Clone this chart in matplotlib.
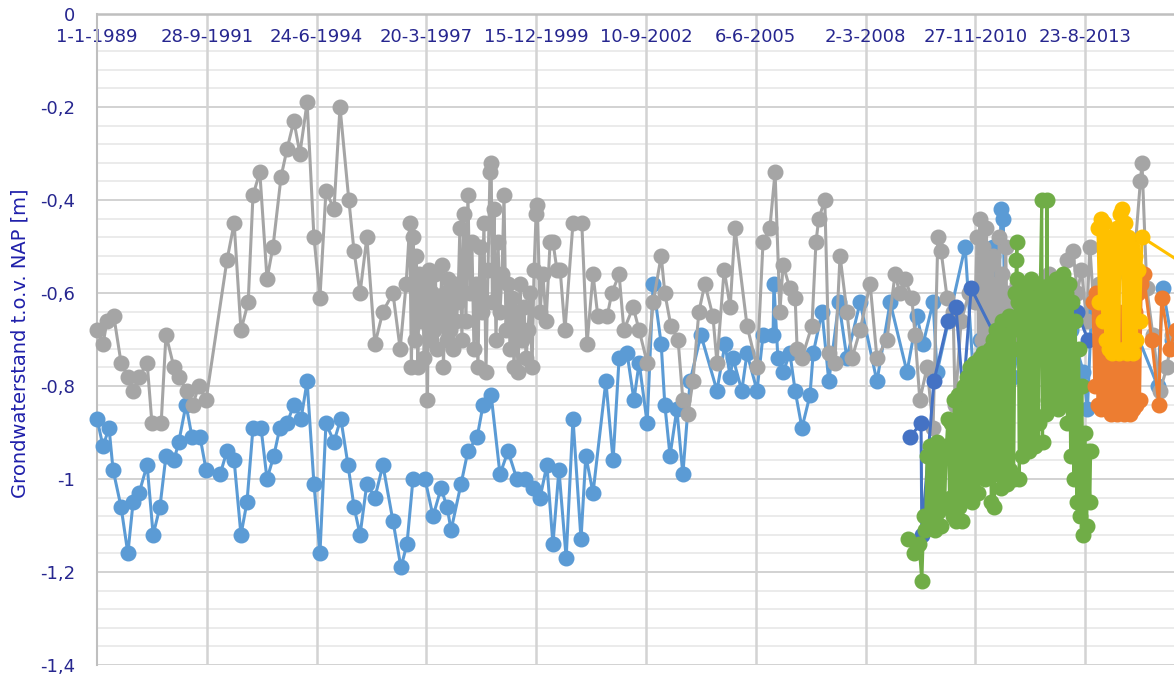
import matplotlib
matplotlib.use("Agg")
import matplotlib.pyplot as plt
import matplotlib.dates as mdates
from matplotlib.ticker import FixedLocator, FuncFormatter
from datetime import datetime
import numpy as np

# Peilbuis data: times as decimal years, levels in m t.o.v. NAP
gray_t = [1989.00, 1989.15, 1989.25, 1989.42, 1989.60, 1989.77, 1989.90, 1990.05, 1990.25, 1990.37,
          1990.60, 1990.72, 1990.92, 1991.04, 1991.24, 1991.39, 1991.54, 1991.72, 1992.24, 1992.42,
          1992.59, 1992.77, 1992.89, 1993.06, 1993.24, 1993.39, 1993.59, 1993.74, 1993.91, 1994.06,
          1994.24, 1994.41, 1994.56, 1994.71, 1994.91, 1995.06, 1995.28, 1995.41, 1995.56, 1995.73,
          1995.93, 1996.13, 1996.38, 1996.56, 1996.71,
          1996.80, 1996.84, 1996.88, 1996.92, 1996.96, 1997.00, 1997.04, 1997.08, 1997.12, 1997.16,
          1997.20, 1997.24, 1997.28, 1997.32, 1997.36, 1997.40, 1997.44, 1997.48, 1997.52, 1997.56,
          1997.60, 1997.64, 1997.68, 1997.72, 1997.76, 1997.80, 1997.84, 1997.88, 1997.92, 1997.96,
          1998.00, 1998.05, 1998.10, 1998.15, 1998.20, 1998.25, 1998.30, 1998.35, 1998.40, 1998.45,
          1998.50, 1998.55, 1998.60, 1998.65, 1998.70, 1998.75, 1998.80, 1998.83, 1998.86, 1998.90,
          1998.95, 1999.00, 1999.05, 1999.10, 1999.15, 1999.20, 1999.25, 1999.30, 1999.35, 1999.40,
          1999.45, 1999.50, 1999.55, 1999.60, 1999.65, 1999.70, 1999.75, 1999.80, 1999.85, 1999.90,
          1999.95, 1999.98, 2000.05, 2000.12, 2000.20, 2000.30, 2000.37, 2000.47, 2000.55, 2000.67,
          2000.87, 2001.09, 2001.22, 2001.37, 2001.49, 2001.72, 2001.84, 2002.02, 2002.14, 2002.37,
          2002.52, 2002.72, 2002.87, 2003.07, 2003.16, 2003.31, 2003.49, 2003.61, 2003.74, 2003.86,
          2004.01, 2004.16, 2004.36, 2004.46, 2004.64, 2004.79, 2004.91, 2005.21, 2005.46, 2005.61,
          2005.78, 2005.91, 2006.03, 2006.11, 2006.28, 2006.41, 2006.46, 2006.58, 2006.83, 2006.93,
          2007.00, 2007.15, 2007.25, 2007.40, 2007.53, 2007.70, 2007.83, 2008.03, 2008.28, 2008.45,
          2008.70, 2008.90, 2009.02, 2009.15, 2009.32, 2009.40, 2009.52, 2009.70, 2009.85, 2009.97,
          2010.05, 2010.20, 2010.35, 2010.40, 2010.55, 2010.75,
          2010.90, 2010.95, 2011.00, 2011.02, 2011.06, 2011.10, 2011.14, 2011.18, 2011.22, 2011.26,
          2011.30, 2011.34, 2011.38, 2011.42, 2011.46, 2011.50, 2011.54, 2011.58, 2011.62, 2011.66,
          2011.70, 2011.75, 2011.85, 2011.95, 2012.05, 2012.15, 2012.30, 2012.45, 2012.60, 2012.75,
          2012.90, 2013.05, 2013.20, 2013.34, 2013.45, 2013.55, 2013.68, 2013.76, 2013.85, 2014.00,
          2014.30, 2014.60, 2014.80, 2015.02, 2015.06, 2015.18, 2015.33, 2015.51, 2015.68, 2015.81]
gray_v = [-0.68, -0.71, -0.66, -0.65, -0.75, -0.78, -0.81, -0.78, -0.75, -0.88,
          -0.88, -0.69, -0.76, -0.78, -0.81, -0.84, -0.80, -0.83, -0.53, -0.45,
          -0.68, -0.62, -0.39, -0.34, -0.57, -0.50, -0.35, -0.29, -0.23, -0.30,
          -0.19, -0.48, -0.61, -0.38, -0.42, -0.20, -0.40, -0.51, -0.60, -0.48,
          -0.71, -0.64, -0.60, -0.72, -0.58,
          -0.45, -0.76, -0.48, -0.70, -0.52, -0.76, -0.56, -0.66, -0.60, -0.74,
          -0.58, -0.83, -0.55, -0.70, -0.60, -0.68, -0.56, -0.72, -0.62, -0.66,
          -0.54, -0.76, -0.60, -0.70, -0.57, -0.68, -0.62, -0.72, -0.58, -0.66,
          -0.62, -0.46, -0.70, -0.43, -0.66, -0.39, -0.60, -0.49, -0.72, -0.58,
          -0.76, -0.50, -0.64, -0.45, -0.77, -0.55, -0.34, -0.32, -0.62, -0.42,
          -0.70, -0.49, -0.64, -0.56, -0.39, -0.68, -0.58, -0.72, -0.61, -0.76,
          -0.64, -0.77, -0.58, -0.70, -0.63, -0.74, -0.68, -0.60, -0.76, -0.55,
          -0.43, -0.41, -0.64, -0.56, -0.66, -0.49, -0.49, -0.55, -0.55, -0.68,
          -0.45, -0.45, -0.71, -0.56, -0.65, -0.65, -0.60, -0.56, -0.68, -0.63,
          -0.68, -0.75, -0.62, -0.52, -0.60, -0.67, -0.70, -0.83, -0.86, -0.79,
          -0.64, -0.58, -0.65, -0.75, -0.55, -0.63, -0.46, -0.67, -0.76, -0.49,
          -0.46, -0.34, -0.64, -0.54, -0.59, -0.61, -0.72, -0.74, -0.67, -0.49,
          -0.44, -0.40, -0.73, -0.75, -0.52, -0.64, -0.74, -0.68, -0.58, -0.74,
          -0.70, -0.56, -0.60, -0.57, -0.61, -0.69, -0.83, -0.76, -0.89, -0.48,
          -0.51, -0.61, -0.64, -0.84, -0.66, -0.60,
          -0.62, -0.48, -0.74, -0.44, -0.70, -0.50, -0.75, -0.46, -0.72, -0.54,
          -0.76, -0.52, -0.70, -0.58, -0.74, -0.48, -0.72, -0.56, -0.77, -0.50,
          -0.68, -0.60, -0.66, -0.58, -0.70, -0.62, -0.66, -0.60, -0.68, -0.56,
          -0.64, -0.58, -0.53, -0.51, -0.60, -0.55, -0.66, -0.50, -0.62, -0.58,
          -0.62, -0.55, -0.60, -0.36, -0.32, -0.59, -0.69, -0.81, -0.76, -0.69]

lblue_t = [1989.00, 1989.15, 1989.30, 1989.40, 1989.60, 1989.77, 1989.90, 1990.05, 1990.25, 1990.40,
           1990.57, 1990.72, 1990.92, 1991.04, 1991.22, 1991.37, 1991.57, 1991.72, 1992.07, 1992.24,
           1992.42, 1992.59, 1992.74, 1992.89, 1993.09, 1993.24, 1993.41, 1993.56, 1993.74, 1993.91,
           1994.09, 1994.24, 1994.41, 1994.56, 1994.71, 1994.91, 1995.08, 1995.26, 1995.41, 1995.56,
           1995.73, 1995.93, 1996.13, 1996.38, 1996.58, 1996.73, 1996.88, 1997.18, 1997.38, 1997.58,
           1997.73, 1997.83, 1998.08, 1998.25, 1998.48, 1998.63, 1998.83, 1999.05, 1999.25, 1999.47,
           1999.67, 1999.87, 2000.05, 2000.22, 2000.37, 2000.52, 2000.70, 2000.87, 2001.07, 2001.19,
           2001.37, 2001.69, 2001.87, 2002.02, 2002.22, 2002.39, 2002.52, 2002.72, 2002.87, 2003.07,
           2003.16, 2003.29, 2003.46, 2003.61, 2003.79, 2004.06, 2004.46, 2004.66, 2004.79, 2004.86,
           2005.08, 2005.21, 2005.46, 2005.61, 2005.86, 2005.88, 2005.98, 2006.11, 2006.28, 2006.41,
           2006.58, 2006.78, 2006.86, 2007.08, 2007.25, 2007.50, 2007.70, 2008.03, 2008.45, 2008.78,
           2009.20, 2009.45, 2009.60, 2009.85, 2009.95, 2010.65, 2010.85, 2011.02, 2011.10, 2011.15,
           2011.20, 2011.25, 2011.35, 2011.45, 2011.55, 2011.60, 2011.65, 2011.75, 2011.85, 2012.10,
           2012.40, 2012.70, 2013.00, 2013.30, 2013.60, 2013.70, 2013.80, 2014.20, 2014.80, 2015.45,
           2015.58, 2015.80]
lblue_v = [-0.87, -0.93, -0.89, -0.98, -1.06, -1.16, -1.05, -1.03, -0.97, -1.12,
           -1.06, -0.95, -0.96, -0.92, -0.84, -0.91, -0.91, -0.98, -0.99, -0.94,
           -0.96, -1.12, -1.05, -0.89, -0.89, -1.00, -0.95, -0.89, -0.88, -0.84,
           -0.87, -0.79, -1.01, -1.16, -0.88, -0.92, -0.87, -0.97, -1.06, -1.12,
           -1.01, -1.04, -0.97, -1.09, -1.19, -1.14, -1.00, -1.00, -1.08, -1.02,
           -1.06, -1.11, -1.01, -0.94, -0.91, -0.84, -0.82, -0.99, -0.94, -1.00,
           -1.00, -1.02, -1.04, -0.97, -1.14, -0.98, -1.17, -0.87, -1.13, -0.95,
           -1.03, -0.79, -0.96, -0.74, -0.73, -0.83, -0.75, -0.88, -0.58, -0.71,
           -0.84, -0.95, -0.85, -0.99, -0.79, -0.69, -0.81, -0.71, -0.78, -0.74,
           -0.81, -0.73, -0.81, -0.69, -0.69, -0.58, -0.74, -0.77, -0.73, -0.81,
           -0.89, -0.82, -0.73, -0.64, -0.79, -0.62, -0.74, -0.62, -0.79, -0.62,
           -0.77, -0.65, -0.71, -0.62, -0.77, -0.50, -0.77, -0.70, -0.60, -0.80,
           -0.55, -0.76, -0.50, -0.72, -0.42, -0.44, -0.70, -0.62, -0.78, -0.66,
           -0.72, -0.64, -0.70, -0.68, -0.77, -0.85, -0.64, -0.65, -0.66, -0.80,
           -0.59, -0.70]

dblue_t = [2009.27, 2009.55, 2009.57, 2009.87, 2010.22, 2010.42, 2010.60, 2010.80, 2011.44, 2013.44, 2013.71]
dblue_v = [-0.91, -0.88, -1.12, -0.79, -0.66, -0.63, -0.82, -0.59, -0.70, -0.64, -0.70]

green_t = [2009.23, 2009.38, 2009.50, 2009.57, 2009.62, 2009.66, 2009.70, 2009.74, 2009.78, 2009.82,
           2009.86, 2009.90, 2009.94, 2009.98, 2010.02, 2010.06, 2010.10, 2010.14, 2010.18, 2010.22,
           2010.26, 2010.30, 2010.34, 2010.38, 2010.42, 2010.46, 2010.50, 2010.54, 2010.58, 2010.62,
           2010.66, 2010.70, 2010.74, 2010.78, 2010.82, 2010.86, 2010.90, 2010.94, 2010.98, 2011.02,
           2011.06, 2011.10, 2011.14, 2011.18, 2011.22, 2011.26, 2011.30, 2011.34, 2011.38, 2011.42,
           2011.46, 2011.50, 2011.54, 2011.58, 2011.62, 2011.66, 2011.70, 2011.74, 2011.78, 2011.82,
           2011.86, 2011.90, 2011.93, 2011.94, 2011.95, 2011.96, 2011.97, 2011.98, 2012.00, 2012.04,
           2012.08, 2012.12, 2012.16, 2012.20, 2012.24, 2012.28, 2012.32, 2012.36, 2012.40, 2012.44,
           2012.48, 2012.52, 2012.56, 2012.58, 2012.62, 2012.66, 2012.69, 2012.72, 2012.76, 2012.80,
           2012.84, 2012.88, 2012.92, 2012.96, 2013.00, 2013.04, 2013.08, 2013.12, 2013.16, 2013.20,
           2013.24, 2013.28, 2013.32, 2013.36, 2013.40, 2013.44, 2013.48, 2013.52, 2013.56, 2013.60,
           2013.64, 2013.68, 2013.72, 2013.76, 2013.78]
green_v = [-1.13, -1.16, -1.14, -1.22, -1.08, -1.11, -0.95, -1.10, -0.93, -1.08,
           -0.96, -1.11, -0.92, -1.07, -0.95, -1.10, -0.94, -1.06, -0.93, -0.87,
           -1.04, -0.88, -1.08, -0.83, -1.09, -0.82, -1.06, -0.85, -1.09, -0.80,
           -1.04, -0.78, -1.02, -0.76, -1.05, -0.75, -1.00, -0.78, -1.03, -0.74,
           -0.98, -0.73, -1.00, -0.76, -0.97, -0.72, -1.05, -0.70, -1.06, -0.68,
           -0.99, -0.70, -1.02, -0.66, -0.96, -0.69, -1.01, -0.65, -0.98, -0.68,
           -1.00, -0.60, -0.53, -0.49, -0.57, -0.62, -0.66, -0.72, -1.00, -0.62,
           -0.95, -0.58, -0.92, -0.60, -0.94, -0.57, -0.90, -0.62, -0.93, -0.58,
           -0.88, -0.60, -0.40, -0.92, -0.59, -0.86, -0.40, -0.83, -0.58, -0.84,
           -0.60, -0.82, -0.57, -0.85, -0.59, -0.84, -0.56, -0.83, -0.60, -0.88,
           -0.58, -0.95, -0.62, -1.00, -0.66, -1.05, -0.72, -1.08, -0.80, -1.12,
           -0.90, -1.10, -0.94, -1.05, -0.94]

orange_t = [2013.84, 2013.88, 2013.92, 2013.96, 2014.00, 2014.04, 2014.08, 2014.12, 2014.16, 2014.20,
            2014.24, 2014.28, 2014.32, 2014.36, 2014.40, 2014.44, 2014.48, 2014.52, 2014.56, 2014.60,
            2014.64, 2014.68, 2014.72, 2014.76, 2014.80, 2014.84, 2014.88, 2014.92, 2014.96, 2015.00,
            2015.04, 2015.10, 2015.30, 2015.48, 2015.55, 2015.75, 2015.90]
orange_v = [-0.62, -0.80, -0.60, -0.84, -0.62, -0.85, -0.64, -0.83, -0.66, -0.85,
            -0.68, -0.86, -0.70, -0.84, -0.66, -0.86, -0.64, -0.85, -0.68, -0.86,
            -0.70, -0.85, -0.66, -0.86, -0.62, -0.85, -0.64, -0.84, -0.60, -0.83,
            -0.58, -0.56, -0.70, -0.84, -0.61, -0.72, -0.68]

yellow_t = [2013.96, 2014.00, 2014.04, 2014.08, 2014.12, 2014.16, 2014.20, 2014.24, 2014.28, 2014.32,
            2014.36, 2014.40, 2014.44, 2014.48, 2014.52, 2014.56, 2014.60, 2014.64, 2014.68, 2014.72,
            2014.76, 2014.80, 2014.84, 2014.88, 2014.92, 2014.96, 2015.00, 2015.06, 2016.50]
yellow_v = [-0.46, -0.62, -0.44, -0.66, -0.45, -0.70, -0.48, -0.72, -0.50, -0.73,
            -0.48, -0.72, -0.46, -0.73, -0.43, -0.42, -0.72, -0.45, -0.73, -0.48,
            -0.72, -0.50, -0.73, -0.52, -0.70, -0.55, -0.66, -0.48, -0.56]

series = [
    (lblue_t, lblue_v, '#5B9BD5'),
    (gray_t, gray_v, '#A5A5A5'),
    (dblue_t, dblue_v, '#4472C4'),
    (green_t, green_v, '#70AD47'),
    (orange_t, orange_v, '#ED7D31'),
    (yellow_t, yellow_v, '#FFC000'),
]

start = mdates.date2num(datetime(1989, 1, 1))
end = start + 9810


def to_num(years):
    return start + (np.asarray(years) - 1989.0) * 365.25


tick_col = '#26268F'

fig = plt.figure(figsize=(11.74, 6.77), dpi=100)
ax = fig.add_axes([97 / 1174, 12 / 677, 1 - 97 / 1174, 651 / 677])

ax.set_xlim(start, end)
ax.set_ylim(-1.4, 0)

# Excel-like date axis: major every 1000 days, crossing at y = 0
xt = [start + k * 1000 for k in range(10)]
yt = [-1.4, -1.2, -1.0, -0.8, -0.6, -0.4, -0.2, 0.0]
minor = [m for m in np.round(np.arange(-1.36, -0.04, 0.04), 2) if round(m / 0.2, 3) % 1 != 0]

# horizontal gridlines as thin bands (about 2 px high), vertical ones as lines
half = 0.0021
for y in minor:
    ax.axhspan(y - half, y + half, facecolor='#EBEBEB', edgecolor='none', zorder=1)
for y in yt:
    ax.axhspan(y - half, y + half, facecolor='#D3D3D3', edgecolor='none', zorder=1.2)
ax.vlines(xt[1:], -1.4, 0, colors='#D3D3D3', linewidth=1.8, zorder=1.2)

for t, v, c in series:
    ax.plot(to_num(t), v, '-o', color=c, linewidth=2.2, markersize=10.5, clip_on=False, zorder=3)

ax.xaxis.set_major_locator(FixedLocator(xt))
ax.xaxis.set_major_formatter(FuncFormatter(
    lambda x, pos: '{0.day}-{0.month}-{0.year}'.format(mdates.num2date(x))))
ax.spines['bottom'].set_position(('data', 0))
ax.spines['bottom'].set_color('#BFBFBF')
ax.spines['bottom'].set_linewidth(1.8)
ax.spines['left'].set_color('#BFBFBF')
ax.spines['left'].set_linewidth(1.5)
ax.spines['top'].set_visible(False)
ax.spines['right'].set_visible(False)

ax.yaxis.set_major_locator(FixedLocator(yt))
ax.yaxis.set_major_formatter(FuncFormatter(
    lambda v, pos: '0' if abs(v) < 1e-9 else ('%g' % round(v, 2)).replace('.', ',')))

ax.tick_params(axis='x', length=0, pad=10, labelsize=13, labelcolor=tick_col)
ax.tick_params(axis='y', length=0, pad=16, labelsize=13, labelcolor=tick_col)

fig.text(0.017, 1 - 343 / 677, 'Grondwaterstand t.o.v. NAP [m]', rotation=90,
         ha='center', va='center', fontsize=14, color='#1F1FAA')

fig.savefig('out.png', dpi=100)
